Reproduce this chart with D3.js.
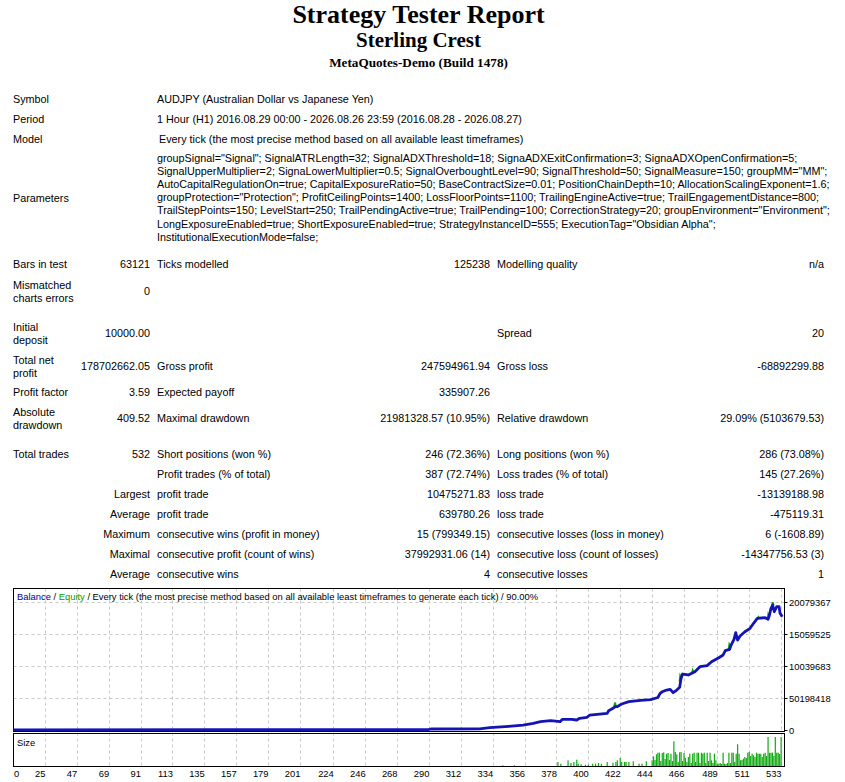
<!DOCTYPE html>
<html>
<head>
<meta charset="utf-8">
<script src="https://cdn.jsdelivr.net/npm/d3@7"></script>
<style>
  body { margin: 0; background: #fff; }
  svg { display: block; }
  text { font-family: "Liberation Sans", Arial, sans-serif; font-size: 10.8px; fill: #000; }
  .title { font-family: "Liberation Serif", "Times New Roman", serif; font-weight: bold; }
  #chart text { font-size: 9.4px; }
</style>
</head>
<body>
<script>
// ---- report text ----
const titleLines = ["Strategy Tester Report", "Sterling Crest", "MetaQuotes-Demo (Build 1478)"]

const infoRows = [
  ["Symbol", "AUDJPY (Australian Dollar vs Japanese Yen)"],
  ["Period", "1 Hour (H1) 2016.08.29 00:00 - 2026.08.26 23:59 (2016.08.28 - 2026.08.27)"],
  ["Model", "Every tick (the most precise method based on all available least timeframes)"]
]

const paramLines = [
  'groupSignal="Signal"; SignalATRLength=32; SignalADXThreshold=18; SignaADXExitConfirmation=3; SignaADXOpenConfirmation=5;',
  'SignalUpperMultiplier=2; SignaLowerMultiplier=0.5; SignalOverboughtLevel=90; SignalThreshold=50; SignalMeasure=150; groupMM="MM";',
  'AutoCapitalRegulationOn=true; CapitalExposureRatio=50; BaseContractSize=0.01; PositionChainDepth=10; AllocationScalingExponent=1.6;',
  'groupProtection="Protection"; ProfitCeilingPoints=1400; LossFloorPoints=1100; TrailingEngineActive=true; TrailEngagementDistance=800;',
  'TrailStepPoints=150; LevelStart=250; TrailPendingActive=true; TrailPending=100; CorrectionStrategy=20; groupEnvironment="Environment";',
  'LongExposureEnabled=true; ShortExposureEnabled=true; StrategyInstanceID=555; ExecutionTag="Obsidian Alpha";',
  'InstitutionalExecutionMode=false;'
]

// [label lines, value, label2, value2, label3, value3]
const statRows = [
  [["Bars in test"], "63121", "Ticks modelled", "125238", "Modelling quality", "n/a"],
  [["Mismatched", "charts errors"], "0", "", "", "", ""],
  [["Initial", "deposit"], "10000.00", "", "", "Spread", "20"],
  [["Total net", "profit"], "178702662.05", "Gross profit", "247594961.94", "Gross loss", "-68892299.88"],
  [["Profit factor"], "3.59", "Expected payoff", "335907.26", "", ""],
  [["Absolute", "drawdown"], "409.52", "Maximal drawdown", "21981328.57 (10.95%)", "Relative drawdown", "29.09% (5103679.53)"],
  [["Total trades"], "532", "Short positions (won %)", "246 (72.36%)", "Long positions (won %)", "286 (73.08%)"],
  [[], "", "Profit trades (% of total)", "387 (72.74%)", "Loss trades (% of total)", "145 (27.26%)"],
  [[], "Largest", "profit trade", "10475271.83", "loss trade", "-13139188.98"],
  [[], "Average", "profit trade", "639780.26", "loss trade", "-475119.31"],
  [[], "Maximum", "consecutive wins (profit in money)", "15 (799349.15)", "consecutive losses (loss in money)", "6 (-1608.89)"],
  [[], "Maximal", "consecutive profit (count of wins)", "37992931.06 (14)", "consecutive loss (count of losses)", "-14347756.53 (3)"],
  [[], "Average", "consecutive wins", "4", "consecutive losses", "1"]
]

// ---- chart data (trade number -> balance) ----
const balanceTrade = [0, 150, 290, 292, 325, 332, 345, 355, 362, 367, 374, 380.5, 382, 388.5, 392, 394, 399, 401,
  413, 414, 417, 418.5, 420, 423, 428, 436, 443, 448, 449.5, 451, 454, 456.5, 458.5, 461, 463, 464, 465, 469,
  473.5, 477, 482, 485, 490, 493, 494.5, 497.5, 498.5, 500.5, 501.7, 503, 504.7, 508, 511.6, 514, 516.6, 522,
  524, 525, 526, 527.2, 528.3, 530, 531.6, 532.3, 533.8]
const balanceValue = [10000, 40000, 80000, 160000, 180000, 360000, 580000, 780000, 1050000, 1300000, 1460000,
  1300000, 1670000, 1670000, 1570000, 1830000, 1990000, 2350000, 2610000, 3030000, 3400000, 3660000, 3660000,
  4080000, 4440000, 4650000, 4780000, 5100000, 5750000, 6000000, 6270000, 6380000, 5850000, 6270000, 6700000,
  8100000, 8780000, 8630000, 9150000, 9930000, 10100000, 10700000, 11340000, 11770000, 12440000, 12660000,
  13330000, 14230000, 15270000, 14100000, 14750000, 15420000, 15950000, 16740000, 17520000, 17620000, 17360000,
  18030000, 19080000, 19600000, 18550000, 19340000, 19340000, 18300000, 17760000]

// equity spikes poking out of the balance line
const equitySpikes = [
  [[417.8, 3600000], [418.4, 4300000], [419, 3700000]],
  [[463, 7600000], [463.4, 8500000], [463.9, 8300000]],
  [[471.5, 8900000], [472, 9350000], [472.5, 9100000]],
  [[496.8, 12600000], [497.3, 13400000], [497.8, 13200000]],
  [[516.8, 17500000], [517.3, 17700000], [517.8, 17550000]],
  [[523.8, 17400000], [524.2, 18100000], [524.6, 17900000]],
  [[526.7, 19300000], [527.2, 20050000], [527.7, 19600000]]
]

const sizeTrade = [341, 349, 379, 381, 386, 388, 390, 392, 393, 395, 398, 400, 403, 405, 407, 409, 413, 417, 419,
  420, 422, 423, 425, 426, 428, 431, 435, 437, 440, 444, 445, 446, 447, 448, 449, 450, 451, 452, 453, 454, 455,
  456, 457, 458, 459, 460, 461, 462, 463, 464, 465, 466, 467, 468, 469, 470, 471, 472, 473, 474, 475, 476, 477,
  478, 479, 480, 481, 482, 483, 484, 485, 486, 487, 488, 489, 490, 491, 492, 493, 494, 495, 496, 497, 498, 499,
  500, 501, 502, 503, 504, 505, 506, 507, 508, 509, 510, 511, 512, 513, 514, 515, 516, 517, 518, 519, 520, 521,
  522, 523, 524, 525, 526, 527, 528, 529, 530, 531, 532, 533]
const sizeValue = [0.07, 0.07, 0.40, 0.23, 0.57, 0.30, 0.40, 0.63, 0.23, 0.17, 0.13, 0.13, 0.23, 0.23, 0.30, 0.23,
  0.40, 0.33, 0.40, 0.57, 0.80, 0.40, 0.40, 0.40, 0.40, 0.47, 0.23, 0.23, 0.47, 0.57, 0.97, 0.60, 1.17, 1.33,
  1.33, 0.50, 1.30, 1.37, 0.70, 1.23, 1.30, 0.60, 1.23, 0.50, 2.47, 1.40, 1.17, 0.40, 1.37, 1.40, 0.50, 1.30,
  0.80, 0.40, 0.90, 1.23, 0.30, 1.23, 1.33, 0.40, 1.33, 1.33, 0.30, 1.33, 1.23, 1.33, 0.30, 1.33, 0.50, 1.33,
  0.57, 0.30, 1.23, 0.57, 0.20, 0.23, 0.30, 0.20, 1.33, 0.23, 0.20, 0.30, 1.33, 0.30, 1.33, 1.33, 0.40, 1.23,
  2.17, 1.23, 0.57, 0.60, 0.73, 0.90, 0.80, 1.33, 1.40, 1.00, 1.23, 1.07, 0.90, 1.33, 1.23, 1.23, 1.23, 0.90,
  1.23, 1.33, 1.00, 2.90, 1.33, 1.33, 1.33, 1.00, 2.90, 1.33, 1.33, 1.20, 2.90]

const xTickValues = [0, 25, 47, 69, 91, 113, 135, 157, 179, 201, 224, 246, 268, 290, 312, 334, 356, 378, 400, 422, 444, 466, 489, 511, 533]
const yTickValues = [0, 5019842, 10039683, 15059525, 20079367]
const yTickLabels = ["0", "50198418", "10039683", "15059525", "20079367"]
const legendParts = [["Balance", "#00008b"], [" / ", "#000"], ["Equity", "#00a000"],
  [" / Every tick (the most precise method based on all available least timeframes to generate each tick) / 90.00%", "#000"]]

// ---- layout ----
const W = 845, H = 782
const col = {label1: 13, value1: 150, label2: 157, value2: 490, label3: 497, value3: 824}
const statY = [264, 291, 333, 366, 392, 418, 454, 474, 494, 514, 534, 554, 574]
const box = {left: 13.5, right: 784.5, top: 588.5, mid: 731.5, sizeTop: 733.5, bottom: 766.5}

const svg = d3.select("body").append("svg").attr("width", W).attr("height", H)

// header
svg.selectAll(".title")
  .data(titleLines)
  .enter().append("text")
    .attr("class", "title")
    .attr("x", 418.5)
    .attr("y", (d, i) => [22.5, 47, 67][i])
    .attr("text-anchor", "middle")
    .style("font-size", (d, i) => [26, 21, 13.2][i] + "px")
    .text(d => d)

// info rows
infoRows.forEach(function(r, i) {
  const yy = [103, 123, 143][i]
  svg.append("text").attr("x", col.label1).attr("y", yy).text(r[0])
  svg.append("text").attr("x", i == 2 ? col.label2 + 2 : col.label2).attr("y", yy).text(r[1])
})
svg.append("text").attr("x", col.label1).attr("y", 202).text("Parameters")
svg.selectAll(".param")
  .data(paramLines)
  .enter().append("text")
    .attr("class", "param")
    .attr("x", col.label2)
    .attr("y", (d, i) => 162 + i * 13.1)
    .text(d => d)

// stats table
statRows.forEach(function(r, i) {
  const yy = statY[i] + 4
  r[0].forEach(function(t, j) {
    svg.append("text").attr("x", col.label1).attr("y", yy + (r[0].length > 1 ? (j - 0.5) * 13 : 0)).text(t)
  })
  svg.append("text").attr("x", col.value1).attr("y", yy).attr("text-anchor", "end").text(r[1])
  svg.append("text").attr("x", col.label2).attr("y", yy).text(r[2])
  svg.append("text").attr("x", col.value2).attr("y", yy).attr("text-anchor", "end").text(r[3])
  svg.append("text").attr("x", col.label3).attr("y", yy).text(r[4])
  svg.append("text").attr("x", col.value3).attr("y", yy).attr("text-anchor", "end").text(r[5])
})

// ---- chart ----
const x = d3.scaleLinear().domain([3, 535]).range([13, 784])
const y = d3.scaleLinear().domain([0, 20079367]).range([730, 602])
const ySize = d3.scaleLinear().domain([0, 3]).range([766, 736])

const chart = svg.append("g").attr("id", "chart")

chart.append("clipPath").attr("id", "clipBal")
  .append("rect").attr("x", box.left).attr("y", box.top).attr("width", box.right - box.left).attr("height", box.mid - box.top - 0.5)

// grid
chart.selectAll(".vgrid")
  .data(xTickValues.slice(1))
  .enter().append("line")
    .attr("class", "vgrid")
    .attr("x1", d => Math.round(x(d)) + 0.5).attr("x2", d => Math.round(x(d)) + 0.5)
    .attr("y1", box.top).attr("y2", box.bottom)
    .attr("stroke", "#c8c8c8").attr("stroke-dasharray", "3,3")
chart.selectAll(".hgrid")
  .data(yTickValues.slice(1))
  .enter().append("line")
    .attr("class", "hgrid")
    .attr("x1", box.left).attr("x2", box.right)
    .attr("y1", d => Math.round(y(d)) + 0.5).attr("y2", d => Math.round(y(d)) + 0.5)
    .attr("stroke", "#c8c8c8").attr("stroke-dasharray", "3,3")

// frames
chart.append("rect").attr("x", box.left).attr("y", box.top)
  .attr("width", box.right - box.left).attr("height", box.mid - box.top)
  .attr("fill", "none").attr("stroke", "#000")
chart.append("rect").attr("x", box.left).attr("y", box.sizeTop)
  .attr("width", box.right - box.left).attr("height", box.bottom - box.sizeTop)
  .attr("fill", "none").attr("stroke", "#000")

// equity + balance
const balance = balanceTrade.map((t, i) => ({t: t, v: balanceValue[i]}))
const line = d3.line().x(d => x(d.t)).y(d => y(d.v))
const plot = chart.append("g").attr("clip-path", "url(#clipBal)")
plot.selectAll(".equity")
  .data(equitySpikes)
  .enter().append("path")
    .attr("class", "equity")
    .attr("d", d => d3.line().x(p => x(p[0])).y(p => y(p[1]))(d))
    .attr("fill", "none").attr("stroke", "#00b000").attr("stroke-width", 2)
plot.append("path")
  .attr("d", line(balance))
  .attr("fill", "none")
  .attr("stroke", "#1414b4")
  .attr("stroke-width", 2.8)
  .attr("stroke-linejoin", "round")

// size bars
chart.selectAll(".size")
  .data(sizeTrade)
  .enter().append("rect")
    .attr("class", "size")
    .attr("x", d => x(d) - 0.6)
    .attr("width", 1.2)
    .attr("y", (d, i) => ySize(sizeValue[i]))
    .attr("height", (d, i) => ySize(0) - ySize(sizeValue[i]))
    .attr("fill", "#11aa11")

// legend + panel label
const legend = chart.append("text").attr("x", 17).attr("y", 599.5)
legend.selectAll("tspan").data(legendParts).enter().append("tspan")
  .style("fill", d => d[1]).text(d => d[0])
chart.append("text").attr("x", 17).attr("y", 745.5).text("Size")

// y axis on the right
yTickValues.forEach(function(v, i) {
  chart.append("line").attr("x1", box.right).attr("x2", box.right + 3)
    .attr("y1", Math.round(y(v)) + 0.5).attr("y2", Math.round(y(v)) + 0.5).attr("stroke", "#000")
  chart.append("text").attr("x", 789).attr("y", y(v) + 4).text(yTickLabels[i])
})

// x axis labels under the size panel
chart.selectAll(".xlab")
  .data(xTickValues)
  .enter().append("text")
    .attr("class", "xlab")
    .attr("x", d => x(d) < 20 ? 14 : x(d) + 0.5)
    .attr("y", 776.5)
    .attr("text-anchor", d => x(d) < 20 ? "start" : "end")
    .text(d => d)
</script>
</body>
</html>
